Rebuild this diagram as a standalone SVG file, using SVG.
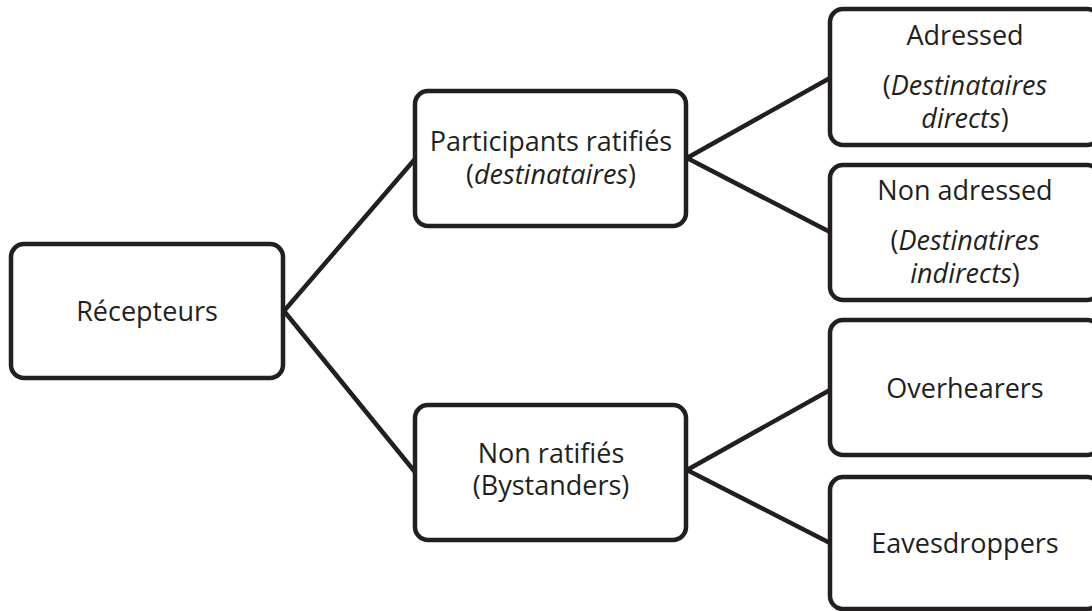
<svg xmlns="http://www.w3.org/2000/svg" width="1092" height="611" viewBox="0 0 1092 611">
<style>
.box{fill:#fff;stroke:#231f20;stroke-width:4.5}
.ln{stroke:#231f20;stroke-width:4.5;fill:none}
text{font-family:"Open Sans","Noto Sans",sans-serif;font-size:27px;fill:#231f20;text-anchor:middle}
.i{font-style:italic}
</style>
<rect width="1092" height="611" fill="#fff"/>
<g id="connectors">
<path class="ln" d="M284 311 L415 159 M284 311 L415 472"/>
<path class="ln" d="M687 158 L830 78 M687 158 L830 232"/>
<path class="ln" d="M687 470 L830 390 M687 470 L830 543"/>
</g>
<g id="recepteurs">
<rect class="box" x="11" y="244" width="272" height="134" rx="13"/>
<text x="147" y="321">Récepteurs</text>
</g>
<g id="participants">
<rect class="box" x="415" y="91" width="271" height="135" rx="13"/>
<text x="551" y="151">Participants ratifiés</text>
<text x="551" y="184">(<tspan class="i">destinataires</tspan>)</text>
</g>
<g id="nonratifies">
<rect class="box" x="415" y="405" width="271" height="135" rx="13"/>
<text x="551" y="463">Non ratifiés</text>
<text x="551" y="495">(Bystanders)</text>
</g>
<g id="adressed">
<rect class="box" x="830" y="9" width="270" height="136" rx="13"/>
<text x="965" y="45">Adressed</text>
<text x="965" y="95">(<tspan class="i">Destinataires</tspan></text>
<text x="965" y="128"><tspan class="i">directs</tspan>)</text>
</g>
<g id="nonadressed">
<rect class="box" x="830" y="165" width="270" height="135" rx="13"/>
<text x="965" y="200">Non adressed</text>
<text x="965" y="250">(<tspan class="i">Destinatires</tspan></text>
<text x="965" y="283"><tspan class="i">indirects</tspan>)</text>
</g>
<g id="overhearers">
<rect class="box" x="830" y="320" width="270" height="135" rx="13"/>
<text x="965" y="398">Overhearers</text>
</g>
<g id="eavesdroppers">
<rect class="box" x="830" y="477" width="270" height="132" rx="13"/>
<text x="965" y="553">Eavesdroppers</text>
</g>
</svg>
